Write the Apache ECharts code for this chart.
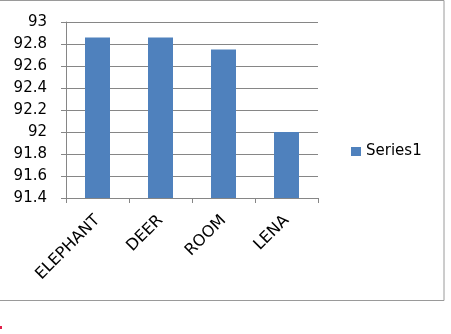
<!DOCTYPE html>
<html>
<head>
<meta charset="utf-8">
<style>html,body{margin:0;padding:0;background:#fff;}#c{width:451px;height:334px;}</style>
<script src="https://cdn.jsdelivr.net/npm/echarts@6/dist/echarts.min.js"></script>
</head>
<body>
<div id="c"></div>
<script>
var categories = ['ELEPHANT', 'DEER', 'ROOM', 'LENA'];
var series1 = [92.86, 92.86, 92.75, 92.0];
var seriesName = 'Series1';

var chart = echarts.init(document.getElementById('c'), null, {renderer: 'canvas'});
var font = 'DejaVu Sans';
chart.setOption({
  animation: false,
  backgroundColor: '#fff',
  grid: {left: 66, right: 133, top: 22, bottom: 136, containLabel: false},
  legend: {
    show: true,
    data: [seriesName],
    orient: 'vertical',
    left: 351, top: 144,
    padding: 0,
    itemWidth: 10, itemHeight: 9, itemGap: 4,
    icon: 'rect',
    textStyle: {fontFamily: font, fontSize: 15, color: '#000', padding: [0,0,0,0]}
  },
  xAxis: {
    type: 'category',
    data: categories,
    boundaryGap: true,
    axisLine: {lineStyle: {color: '#868686', width: 1}},
    axisTick: {show: true, length: 5, alignWithLabel: false, lineStyle: {color: '#868686'}},
    axisLabel: {rotate: 45, fontFamily: font, fontSize: 16, color: '#000', margin: 20, interval: 0}
  },
  yAxis: {
    type: 'value',
    min: 91.4, max: 93, interval: 0.2,
    axisLine: {show: true, lineStyle: {color: '#868686'}},
    axisTick: {show: true, length: 5, lineStyle: {color: '#868686'}},
    splitLine: {show: true, lineStyle: {color: '#868686', width: 1}},
    axisLabel: {
      fontFamily: font, fontSize: 15, color: '#000', margin: 19,
      formatter: function (v) { return String(Math.round(v * 10) / 10); }
    }
  },
  series: [{
    name: seriesName,
    type: 'bar',
    data: series1,
    barWidth: 25,
    itemStyle: {color: '#4f81bd'}
  }],
  graphic: [
    {type: 'rect', shape: {x: -2, y: 0.5, width: 446, height: 300}, style: {fill: 'none', stroke: '#9a9a9a', lineWidth: 1}, silent: true},
    {type: 'rect', shape: {x: 0, y: 326, width: 2, height: 3}, style: {fill: '#e0204a'}, silent: true}
  ]
});
</script>
</body>
</html>
